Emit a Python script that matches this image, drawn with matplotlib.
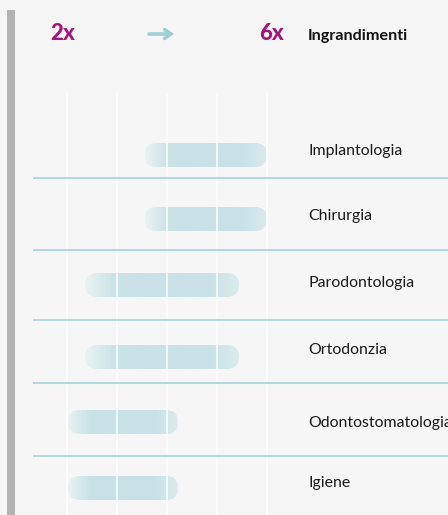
import numpy as np
import matplotlib
matplotlib.use("Agg")
import matplotlib.pyplot as plt
from matplotlib.patches import FancyBboxPatch
from matplotlib.colors import to_rgb

# ---- data ----
categories = ["Implantologia", "Chirurgia", "Parodontologia", "Ortodonzia",
              "Odontostomatologia", "Igiene"]
mag_start = [3.55, 3.55, 2.36, 2.36, 2.02, 2.02]
mag_end = [6.0, 6.0, 5.44, 5.44, 4.22, 4.22]
scale_ticks = [2, 3, 4, 5, 6]
scale_min_label = "2x"
scale_max_label = "6x"
header_title = "Ingrandimenti"

# ---- layout (pixel rows) ----
W, H = 448, 515
PX_PER_UNIT = 50.0
PX_AT_2 = 67.0
def px2m(px):
    return 2 + (px - PX_AT_2) / PX_PER_UNIT

row_y = [155, 219, 285, 357, 422, 488]
label_base = [155, 220, 287, 354, 427, 487]
sep_y = [178, 250, 320, 383, 456]
bar_h = 24

BG = "#f6f6f6"
BAR = "#c8e2e7"
BAR_PALE = "#eaf2f3"
SEP = "#a3d4da"
MAG = "#a6157a"
ARROW = "#9fd0d8"

plt.rcParams["font.family"] = ["Lato", "DejaVu Sans"]

fig = plt.figure(figsize=(W / 100, H / 100), dpi=100, facecolor=BG)
ax = fig.add_axes([0, 0, 1, 1])
ax.set_facecolor(BG)
ax.set_xlim(px2m(0), px2m(W))
ax.set_ylim(H, 0)
ax.axis("off")

# left grey bar
ax.fill_between([px2m(7), px2m(15)], 10, H, color="#b4b4b4", lw=0, zorder=1)

# header
ax.text(px2m(50), 33, scale_min_label, color=MAG, fontsize=16, fontweight="black",
        ha="left", va="center")
ax.text(px2m(284), 33, scale_max_label, color=MAG, fontsize=16, fontweight="black",
        ha="right", va="center")
ax.annotate("", xy=(px2m(174), 34), xytext=(px2m(149), 34),
            arrowprops=dict(arrowstyle="->,head_length=0.45,head_width=0.32", color=ARROW,
                            lw=2.6, shrinkA=0, shrinkB=0, joinstyle="miter"))
ax.text(px2m(308), 36, header_title, color="#111111", fontsize=11.6, fontweight="bold",
        ha="left", va="center")

# gradient colormap for bars
c_full = np.array(to_rgb(BAR))
c_pale = np.array(to_rgb(BAR_PALE))
n = 256
t = np.linspace(0, 1, n)
w = np.ones(n)
w = np.where(t < 0.2, t / 0.2, w)
w = np.where(t > 0.8, 1 - (t - 0.8) / 0.2 * 0.55, w)
grad = c_pale[None, :] + (c_full - c_pale)[None, :] * w[:, None]
grad_img = grad[None, :, :]

rad_units = (bar_h / 2) / PX_PER_UNIT
for i, (s, e) in enumerate(zip(mag_start, mag_end)):
    y0 = row_y[i] - bar_h / 2
    patch = FancyBboxPatch((s, y0), e - s, bar_h,
                           boxstyle=f"round,pad=0,rounding_size={rad_units}",
                           mutation_aspect=PX_PER_UNIT, facecolor="none",
                           edgecolor="none", zorder=2)
    ax.add_patch(patch)
    im = ax.imshow(grad_img, extent=(s, e, y0 + bar_h, y0), aspect="auto",
                   interpolation="bilinear", zorder=2)
    im.set_clip_path(patch)

# white vertical gridlines over bars
for tck in scale_ticks:
    ax.plot([tck, tck], [94, H], color="white", lw=1.1, zorder=3)

# separators
for y in sep_y:
    ax.plot([px2m(33), px2m(W + 5)], [y, y], color=SEP, lw=1.2, zorder=3,
            solid_capstyle="butt")

# row labels
for i, cat in enumerate(categories):
    ax.text(px2m(308), label_base[i], cat, color="#1a1a1a", fontsize=11.4,
            ha="left", va="baseline", zorder=4)

ax.set_xlim(px2m(0), px2m(W))
ax.set_ylim(H, 0)
fig.savefig("out.png", dpi=100, facecolor=BG)
